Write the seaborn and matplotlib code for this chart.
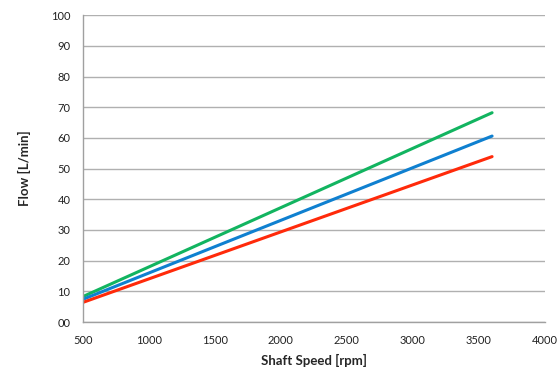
import matplotlib
matplotlib.use("Agg")
import matplotlib.pyplot as plt
import seaborn as sns
import pandas as pd
from matplotlib.ticker import FuncFormatter

# shaft speed [rpm] at line ends, flow [L/min] per series
speed = [500, 3600]
flow_green = [8.3, 68.2]
flow_blue = [7.4, 60.6]
flow_red = [6.4, 53.9]

series = {"green": flow_green, "blue": flow_blue, "red": flow_red}
colors = {"green": "#12b460", "blue": "#0f80d0", "red": "#ff2a0a"}

rows = []
for name, vals in series.items():
    for s, f in zip(speed, vals):
        rows.append({"speed": s, "flow": f, "series": name})
df = pd.DataFrame(rows)

sns.set_style("white")
plt.rcParams["font.family"] = ["Lato", "DejaVu Sans"]

fig = plt.figure(figsize=(5.6, 3.78), dpi=100)
ax = fig.add_axes([0.148, 0.148, 0.825, 0.812])

sns.lineplot(data=df, x="speed", y="flow", hue="series", palette=colors,
             linewidth=2.2, legend=False, ax=ax)

ax.set_xlim(500, 4000)
ax.set_ylim(0, 100)
ax.set_xticks(range(500, 4001, 500))
ax.set_yticks(range(0, 101, 10))
ax.yaxis.set_major_formatter(FuncFormatter(lambda v, p: f"{int(v):02d}"))
ax.grid(axis="y", color="#b0b0b0", linewidth=1)
ax.set_axisbelow(True)

for side in ["top", "right"]:
    ax.spines[side].set_visible(False)
for side in ["left", "bottom"]:
    ax.spines[side].set_color("#a0a0a0")
    ax.spines[side].set_linewidth(1)

ax.tick_params(axis="both", direction="out", length=4, width=1, color="#a0a0a0",
               labelsize=8, labelcolor="#222222", pad=5)
ax.set_xlabel("Shaft Speed [rpm]", fontsize=9.5, fontweight="bold", labelpad=6)
ax.set_ylabel("Flow [L/min]", fontsize=9.5, fontweight="bold", labelpad=14)

fig.savefig("out.png", dpi=100)
